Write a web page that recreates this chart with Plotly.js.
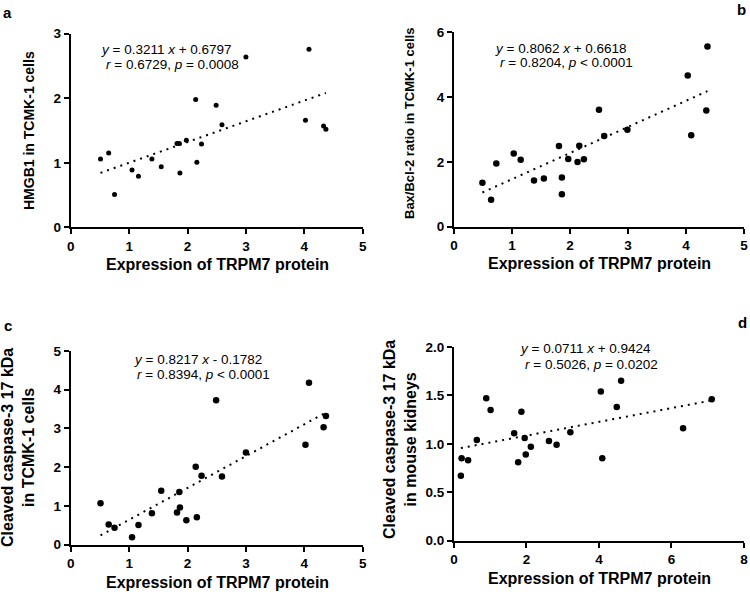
<!DOCTYPE html>
<html>
<head>
<meta charset="utf-8">
<script src="https://cdn.plot.ly/plotly-3.0.1.min.js"></script>
<style>
  html, body { margin: 0; padding: 0; background: #fff; }
  #chart { width: 750px; height: 592px; }
</style>
</head>
<body>
<div id="chart"></div>
<script>
// TRPM7 protein expression (x) — cell panels share the same x values
const trpm7Cells = [0.51, 0.65, 0.75, 1.05, 1.16, 1.39, 1.55, 1.82, 1.86, 1.87, 1.98,
                    2.14, 2.16, 2.24, 2.49, 2.59, 3.00, 4.02, 4.08, 4.33, 4.37]
const hmgb1 = [1.06, 1.15, 0.51, 0.89, 0.79, 1.06, 0.94, 1.30, 1.30, 0.84, 1.35,
               1.98, 1.01, 1.29, 1.89, 1.59, 2.64, 1.66, 2.76, 1.57, 1.52]

const trpm7B = [0.49, 0.64, 0.73, 1.03, 1.15, 1.38, 1.55, 1.81, 1.86, 1.86, 1.97,
                2.13, 2.16, 2.24, 2.50, 2.59, 2.99, 4.03, 4.09, 4.35, 4.37]
const baxBcl2 = [1.36, 0.83, 1.95, 2.26, 2.07, 1.43, 1.49, 2.49, 1.52, 1.00, 2.09,
                 2.00, 2.50, 2.08, 3.61, 2.80, 2.99, 4.67, 2.82, 3.59, 5.56]

const casp3Cells = [1.07, 0.52, 0.44, 0.19, 0.51, 0.81, 1.39, 0.83, 1.36, 0.96, 0.63,
                    2.01, 0.71, 1.78, 3.73, 1.76, 2.38, 2.58, 4.18, 3.03, 3.32]

const trpm7Kidney = [0.19, 0.21, 0.39, 0.63, 0.89, 1.01, 1.66, 1.77, 1.86, 1.95, 1.98,
                     2.12, 2.62, 2.83, 3.21, 4.05, 4.09, 4.49, 4.61, 6.32, 7.11]
const casp3Kidney = [0.67, 0.85, 0.83, 1.04, 1.47, 1.35, 1.11, 0.81, 1.33, 1.06, 0.89,
                     0.97, 1.03, 0.99, 1.12, 1.54, 0.85, 1.38, 1.65, 1.16, 1.46]

// regression results printed on each panel
const slopes = [0.3211, 0.8062, 0.8217, 0.0711]
const intercepts = [0.6797, 0.6618, -0.1782, 0.9424]
const rValues = ['0.6729', '0.8204', '0.8394', '0.5026']
const pText = ['= 0.0008', '< 0.0001', '< 0.0001', '= 0.0202']

const FONT = 'Liberation Sans, Arial, sans-serif'

const panels = [
  { x: trpm7Cells, y: hmgb1, ax: '', msize: 5 },
  { x: trpm7B, y: baxBcl2, ax: '2', msize: 6.5 },
  { x: trpm7Cells, y: casp3Cells, ax: '3', msize: 6.5 },
  { x: trpm7Kidney, y: casp3Kidney, ax: '4', msize: 6.5 },
]

const data = []
panels.forEach((p, i) => {
  data.push({
    x: p.x, y: p.y, xaxis: 'x' + p.ax, yaxis: 'y' + p.ax,
    type: 'scatter', mode: 'markers', cliponaxis: false,
    marker: { color: '#000', size: p.msize },
    hoverinfo: 'x+y',
  })
  const x0 = Math.min(...p.x), x1 = Math.max(...p.x)
  data.push({
    x: [x0, x1], y: [x0, x1].map(v => slopes[i] * v + intercepts[i]),
    xaxis: 'x' + p.ax, yaxis: 'y' + p.ax,
    type: 'scatter', mode: 'lines', cliponaxis: false,
    line: { color: '#000', width: 2, dash: '2px,5px' },
    hoverinfo: 'skip',
  })
})

const axisBase = {
  showgrid: false, zeroline: false, showline: true, linecolor: '#000', linewidth: 2,
  ticks: 'outside', ticklen: 5, tickwidth: 2, tickcolor: '#000',
  tickfont: { family: FONT, size: 13.5, color: '#000', weight: 'bold' },
  fixedrange: true,
}

const layout = {
  width: 750, height: 592,
  margin: { l: 0, r: 0, t: 0, b: 0 },
  paper_bgcolor: '#fff', plot_bgcolor: '#fff',
  showlegend: false,
  font: { family: FONT, color: '#000' },
  xaxis:  { ...axisBase, domain: [0.0943, 0.4836], range: [0, 5], dtick: 1, anchor: 'y' },
  yaxis:  { ...axisBase, domain: [0.616, 0.943], range: [0, 3], dtick: 1, anchor: 'x' },
  xaxis2: { ...axisBase, domain: [0.6053, 0.992], range: [0, 5], dtick: 1, anchor: 'y2' },
  yaxis2: { ...axisBase, domain: [0.617, 0.9454], range: [0, 6], dtick: 2, anchor: 'x2' },
  xaxis3: { ...axisBase, domain: [0.0943, 0.4836], range: [0, 5], dtick: 1, anchor: 'y3' },
  yaxis3: { ...axisBase, domain: [0.0799, 0.4071], range: [0, 5], dtick: 1, anchor: 'x3' },
  xaxis4: { ...axisBase, domain: [0.6053, 0.992], range: [0, 8], dtick: 2, anchor: 'y4' },
  yaxis4: { ...axisBase, domain: [0.0867, 0.4139], range: [0, 2], dtick: 0.5, tickformat: '.1f', anchor: 'x4' },
  annotations: [],
}

const paperText = (text, x, y, size, bold, angle) => ({
  text, x: x / 750, y: 1 - y / 592, xref: 'paper', yref: 'paper',
  xanchor: 'center', yanchor: 'middle', showarrow: false, textangle: angle || 0,
  font: { family: FONT, size, color: '#000', weight: bold ? 'bold' : 'normal' },
})

// panel letters
layout.annotations.push(paperText('a', 7, 12, 15, true))
layout.annotations.push(paperText('b', 741, 10, 15, true))
layout.annotations.push(paperText('c', 8, 325, 15, true))
layout.annotations.push(paperText('d', 742, 322, 15, true))

// x titles
const xTitle = 'Expression of TRPM7 protein'
layout.annotations.push(paperText(xTitle, 217, 264, 16, true))
layout.annotations.push(paperText(xTitle, 599, 263, 16, true))
layout.annotations.push(paperText(xTitle, 217, 582, 16, true))
layout.annotations.push(paperText(xTitle, 599, 578, 16, true))

// y titles
layout.annotations.push(paperText('HMGB1 in TCMK-1 cells', 29, 131, 14, true, -90))
layout.annotations.push(paperText('Bax/Bcl-2 ratio in TCMK-1 cells', 410, 124, 13, true, -90))
layout.annotations.push(paperText('Cleaved caspase-3 17 kDa<br>in TCMK-1 cells', 18, 448, 16, true, -90))
layout.annotations.push(paperText('Cleaved caspase-3 17 kDa<br>in mouse kidneys', 400, 440, 16, true, -90))

// equations
const eqPos = [[166, 50, 172, 65], [561, 48, 566, 63], [198, 359, 203, 374], [585, 349, 591, 364]]
eqPos.forEach((pos, i) => {
  const sign = intercepts[i] < 0 ? '-' : '+'
  const line1 = `<i>y</i> = ${slopes[i].toFixed(4)} <i>x</i> ${sign} ${Math.abs(intercepts[i]).toFixed(4)}`
  const line2 = `<i>r</i> = ${rValues[i]}, <i>p</i> ${pText[i]}`
  layout.annotations.push(paperText(line1, pos[0], pos[1], 13.5, false))
  layout.annotations.push(paperText(line2, pos[2], pos[3], 13.5, false))
})

Plotly.newPlot('chart', data, layout, { displayModeBar: false, staticPlot: false })
</script>
</body>
</html>
